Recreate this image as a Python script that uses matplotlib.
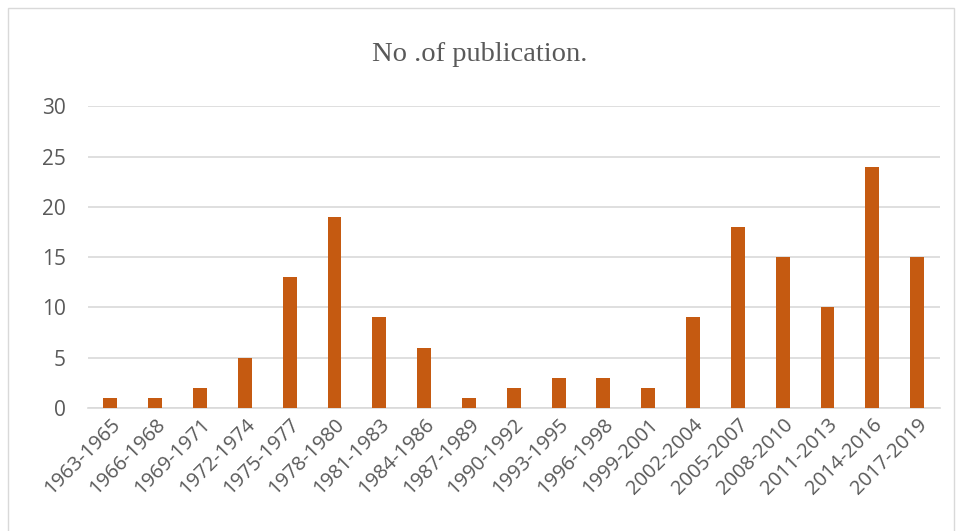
import numpy as np
import matplotlib.pyplot as plt
from matplotlib.patches import Rectangle

periods = ['1963-1965', '1966-1968', '1969-1971', '1972-1974', '1975-1977',
           '1978-1980', '1981-1983', '1984-1986', '1987-1989', '1990-1992',
           '1993-1995', '1996-1998', '1999-2001', '2002-2004', '2005-2007',
           '2008-2010', '2011-2013', '2014-2016', '2017-2019']
counts = [1, 1, 2, 5, 13, 19, 9, 6, 1, 2, 3, 3, 2, 9, 18, 15, 10, 24, 15]

bar_color = '#C55A11'
text_color = '#595959'

fig = plt.figure(figsize=(9.6, 5.31), dpi=100)
ax = fig.add_axes([0.0917, 0.2316, 0.887, 0.5684])

x = np.arange(len(periods))
ax.bar(x, counts, width=0.31, color=bar_color, zorder=3)

ax.set_xlim(-0.5, len(periods) - 0.5)
ax.set_ylim(0, 30)
ax.set_yticks(range(0, 31, 5))
ax.yaxis.grid(True, color='#D9D9D9', linewidth=1.2, zorder=0)
ax.set_xticks(x)
ax.set_xticklabels(periods, rotation=45, ha='right', va='top',
                   rotation_mode='anchor', fontsize=14.5, color=text_color,
                   family='Open Sans')
for lab in ax.get_yticklabels():
    lab.set_fontsize(15)
    lab.set_color(text_color)
    lab.set_family('Open Sans')

for side in ['top', 'right', 'left']:
    ax.spines[side].set_visible(False)
ax.spines['bottom'].set_color('#D9D9D9')
ax.spines['bottom'].set_linewidth(1.2)
ax.tick_params(axis='both', length=0)
ax.tick_params(axis='y', pad=16)
ax.tick_params(axis='x', pad=5)
for lab in ax.get_xticklabels():
    lab.set_x(lab.get_position()[0])

fig.text(0.5, 0.897, 'No .of publication.', ha='center', va='center',
         fontsize=20.5, color=text_color, family='Liberation Serif')

# outer chart frame
fig.patches.append(Rectangle((0.008, -0.01), 0.986, 0.995, transform=fig.transFigure,
                             fill=False, edgecolor='#D9D9D9', linewidth=1))

fig.savefig('out.png', dpi=100)
